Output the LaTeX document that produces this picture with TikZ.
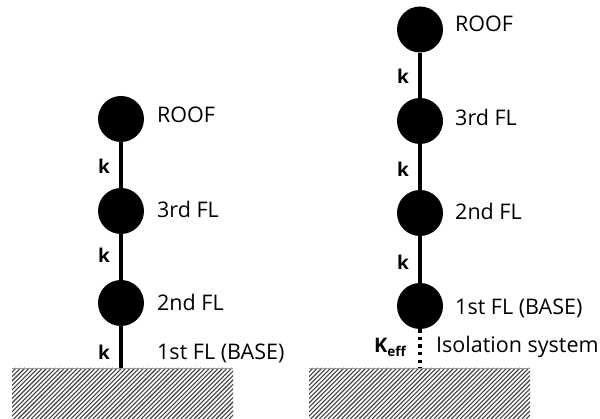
\documentclass[tikz,border=0pt]{standalone}
\usepackage{fontspec}
\setmainfont{Open Sans}
\begin{document}
\begin{tikzpicture}[x=1pt,y=-1pt,
 mass/.style={circle,fill=black,minimum size=46pt,inner sep=0pt},
 lbl/.style={anchor=base west,inner sep=0pt,font=\fontsize{21.5}{25}\selectfont},
 klbl/.style={anchor=base,inner sep=0pt,font=\fontsize{19}{22}\selectfont\bfseries},
 col/.style={line width=3.4pt},
 iso/.style={line width=3.4pt,dash pattern=on 3.4pt off 4.2pt},
 hatch/.style={line width=1.1pt,black!75}]
\useasboundingbox (0,0) rectangle (600,419);

% ground blocks
\foreach \gx in {12,309}{
  \begin{scope}
    \clip (\gx,368) rectangle (\gx+221,419);
    \foreach \i in {0,...,66} \draw[hatch] (\gx-60+\i*4.4,419) -- ++(51,-51);
  \end{scope}
  \draw[black!40,line width=0.8pt] (\gx,368.4) -- (\gx+221,368.4);
}

% left building
\node[mass] (roofL) at (121,119) {};
\node[mass] (f3L) at (121,211) {};
\node[mass] (f2L) at (121,303) {};
\coordinate (gL) at (121,368.5);
\draw[col] (roofL) -- (f3L);
\draw[col] (f3L) -- (f2L);
\draw[col] (f2L) -- (gL);

\node[lbl] (tRoofL) at (157,123) {ROOF};
\node[lbl] (t3L) at (157,218) {3rd FL};
\node[lbl] (t2L) at (157,311) {2nd FL};
\node[lbl] (t1L) at (157,360) {1st FL (BASE)};
\node[klbl] (k1L) at (104,174) {k};
\node[klbl] (k2L) at (104,263) {k};
\node[klbl] (k3L) at (104,360) {k};

% right building
\node[mass] (roofR) at (420,29.5) {};
\node[mass] (f3R) at (420,121) {};
\node[mass] (f2R) at (420,213) {};
\node[mass] (f1R) at (420,306) {};
\coordinate (gR) at (420,368.5);
\draw[col] (roofR) -- (f3R);
\draw[col] (f3R) -- (f2R);
\draw[col] (f2R) -- (f1R);
\draw[iso] (f1R) -- (gR);

\node[lbl] (tRoofR) at (455,32) {ROOF};
\node[lbl] (t3R) at (455,126) {3rd FL};
\node[lbl] (t2R) at (455,220) {2nd FL};
\node[lbl] (t1R) at (455,315) {1st FL (BASE)};
\node[lbl] (tIso) at (436,353) {Isolation system};
\node[klbl] (k1R) at (403,84) {k};
\node[klbl] (k2R) at (403,177) {k};
\node[klbl] (k3R) at (403,270) {k};
\node[anchor=base west,inner sep=0pt] (keff) at (374,353)
  {\fontsize{20}{22}\selectfont\bfseries K\raisebox{-3.5pt}{\fontsize{13.5}{15}\selectfont eff}};
\end{tikzpicture}
\end{document}
